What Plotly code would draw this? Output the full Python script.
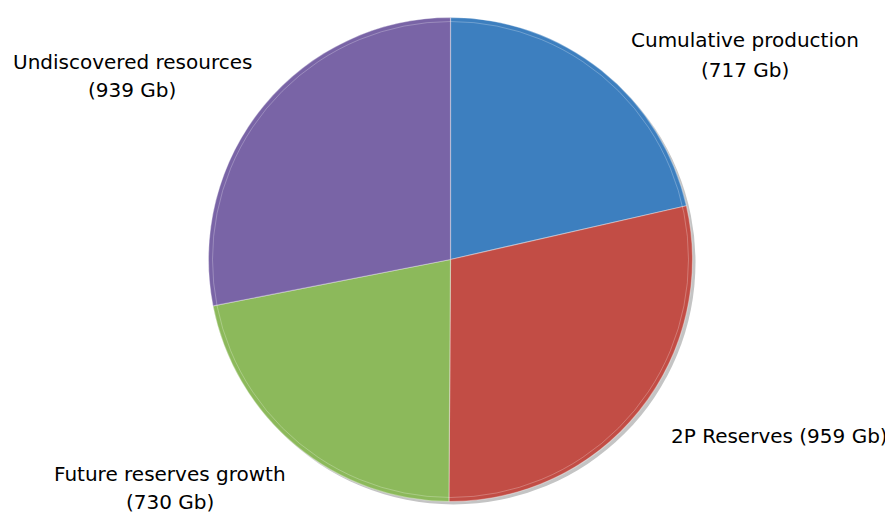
import plotly.graph_objects as go

categories = ["Cumulative production", "2P Reserves", "Future reserves growth", "Undiscovered resources"]
values_gb = [717, 959, 730, 939]
colors = ["#3d7fbf", "#c24d45", "#8cb95b", "#7964a6"]

W, H = 893, 513
OFF = 8  # page body margin
cx, cy, r = 450.5 - OFF, 259.5 - OFF, 242


def px(x):
    return x / W


def py(y):
    return 1 - y / H


fig = go.Figure()

# drop shadow
fig.add_shape(type="circle", xref="paper", yref="paper", layer="below",
              x0=px(cx - r + 3), x1=px(cx + r + 3), y0=py(cy + r + 3), y1=py(cy - r + 3),
              fillcolor="#c4c4c4", line=dict(width=0))

fig.add_trace(go.Pie(
    labels=categories, values=values_gb, sort=False, direction="clockwise", rotation=0,
    marker=dict(colors=colors, line=dict(color="rgba(255,255,255,0.35)", width=1.2)),
    textinfo="none", showlegend=False,
    domain=dict(x=[px(cx - r), px(cx + r)], y=[py(cy + r), py(cy - r)]),
))

# inner rim highlight
ri = r - 4
fig.add_shape(type="circle", xref="paper", yref="paper", layer="above",
              x0=px(cx - ri), x1=px(cx + ri), y0=py(cy + ri), y1=py(cy - ri),
              fillcolor="rgba(0,0,0,0)", line=dict(color="rgba(255,255,255,0.25)", width=1))

# label positions (line1 centre x, line1 y, line2 y) in reference pixels; None = single line
label_pos = [(745, 40, 70), (779, 436, None), (170, 474, 502), (132, 62, 90)]
for cat, v, (x, y1, y2) in zip(categories, values_gb, label_pos):
    lines = [(f"{cat} ({v} Gb)", y1)] if y2 is None else [(cat, y1), (f"({v} Gb)", y2)]
    for txt, yy in lines:
        fig.add_annotation(text=txt, x=px(x - OFF), y=py(yy - OFF), xref="paper", yref="paper",
                           showarrow=False, xanchor="center", yanchor="middle", align="center",
                           font=dict(family="DejaVu Sans", size=20, color="#000000"))

fig.update_layout(width=W, height=H, margin=dict(l=0, r=0, t=0, b=0),
                  paper_bgcolor="white", plot_bgcolor="white")
fig.write_html("out.html")
